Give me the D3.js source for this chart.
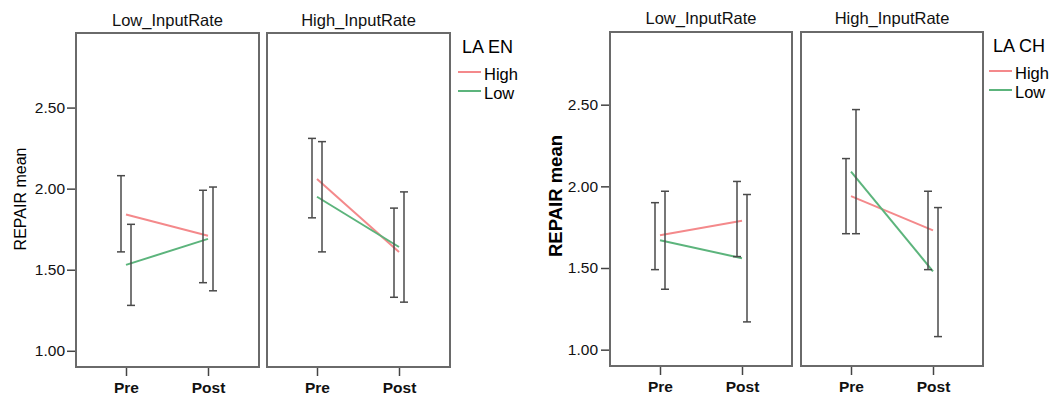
<!DOCTYPE html>
<html>
<head>
<meta charset="utf-8">
<script src="https://cdn.jsdelivr.net/npm/d3@7"></script>
<style>
  body { margin: 0; background: #fff; }
  svg { display: block; font-family: "Liberation Sans", Arial, sans-serif; }
</style>
</head>
<body>
<svg id="chart"></svg>
<script>
const timePoints = ["Pre", "Post"];
const inputRates = ["Low_InputRate", "High_InputRate"];
const groups = ["High", "Low"];
const yTicks = [1.0, 1.5, 2.0, 2.5];

// each array: Low_InputRate Pre, Low_InputRate Post, High_InputRate Pre, High_InputRate Post
const enHighMean = [1.84, 1.71, 2.06, 1.61];
const enHighLower = [1.61, 1.42, 1.82, 1.33];
const enHighUpper = [2.08, 1.99, 2.31, 1.88];
const enLowMean = [1.53, 1.69, 1.95, 1.64];
const enLowLower = [1.28, 1.37, 1.61, 1.30];
const enLowUpper = [1.78, 2.01, 2.29, 1.98];

const chHighMean = [1.70, 1.79, 1.94, 1.73];
const chHighLower = [1.49, 1.57, 1.71, 1.49];
const chHighUpper = [1.90, 2.03, 2.17, 1.97];
const chLowMean = [1.67, 1.56, 2.09, 1.48];
const chLowLower = [1.37, 1.17, 1.71, 1.08];
const chLowUpper = [1.97, 1.95, 2.47, 1.87];

const colors = { High: "#f4898b", Low: "#5cb47c" };

const svgWidth = 1051;
const svgHeight = 396;

let svg = d3.select("#chart")
    .attr("width", svgWidth)
    .attr("height", svgHeight);

const drawChart = (cfg, series) => {
    const g = svg.append("g");
    const panelW = cfg.panelW;

    let yScale = d3.scaleLinear().domain(cfg.yDomain).range([cfg.bottom, cfg.top]);
    let xScale = d3.scalePoint().domain(timePoints).range([50, 132]);
    let panelScale = d3.scaleOrdinal().domain(inputRates).range(cfg.panelX);

    //y axis
    let yAxis = d3.axisLeft(yScale).tickValues(yTicks).tickFormat(d3.format(".2f"))
        .tickSize(9).tickPadding(cfg.tickPad);
    let ya = g.append("g").attr("transform", `translate(${cfg.panelX[0]}, 0)`).call(yAxis);
    ya.select(".domain").remove();
    ya.selectAll("line").attr("stroke", "#444").attr("stroke-width", 1.5);
    ya.selectAll("text").attr("font-size", 15.5).attr("fill", "#111")
        .attr("font-family", "Liberation Sans, Arial, sans-serif");

    //y label
    g.append("text")
        .attr("transform", `translate(${cfg.labelX}, ${cfg.labelY}) rotate(-90)`)
        .attr("text-anchor", "middle")
        .attr("font-size", cfg.labelSize)
        .attr("font-weight", cfg.labelWeight)
        .attr("fill", "#000")
        .text("REPAIR mean");

    inputRates.forEach((rate, p) => {
        const px = panelScale(rate);
        const pg = g.append("g").attr("transform", `translate(${px}, 0)`);

        //panel title
        pg.append("text")
            .attr("x", panelW / 2)
            .attr("y", cfg.titleY)
            .attr("text-anchor", "middle")
            .attr("font-size", 16.5)
            .attr("fill", "#111")
            .text(rate);

        //x axis
        let xAxis = d3.axisBottom(xScale).tickSize(9).tickPadding(6);
        let xa = pg.append("g").attr("transform", `translate(0, ${cfg.bottom})`).call(xAxis);
        xa.select(".domain").remove();
        xa.selectAll("line").attr("stroke", "#444").attr("stroke-width", 1.5);
        xa.selectAll("text").attr("font-size", 15.5).attr("font-weight", "bold").attr("fill", "#111")
            .attr("font-family", "Liberation Sans, Arial, sans-serif");

        //lines
        groups.forEach((grp) => {
            const s = series[grp];
            const pts = timePoints.map((t, i) => [xScale(t), yScale(s.mean[p * 2 + i])]);
            pg.append("path")
                .attr("d", d3.line()(pts))
                .attr("fill", "none")
                .attr("stroke", colors[grp])
                .attr("stroke-width", 2);
        });

        //error bars
        groups.forEach((grp, gi) => {
            const s = series[grp];
            const dodge = gi === 0 ? -5 : 5;
            timePoints.forEach((t, i) => {
                const x = xScale(t) + dodge;
                const lo = yScale(s.lower[p * 2 + i]);
                const hi = yScale(s.upper[p * 2 + i]);
                const eb = pg.append("g").attr("stroke", "#4a4a4a").attr("stroke-width", 1.5);
                eb.append("line").attr("x1", x).attr("x2", x).attr("y1", lo).attr("y2", hi);
                eb.append("line").attr("x1", x - 4).attr("x2", x + 4).attr("y1", lo).attr("y2", lo);
                eb.append("line").attr("x1", x - 4).attr("x2", x + 4).attr("y1", hi).attr("y2", hi);
            });
        });

        //frame
        pg.append("rect")
            .attr("x", 0)
            .attr("y", cfg.top)
            .attr("width", panelW)
            .attr("height", cfg.bottom - cfg.top)
            .attr("fill", "none")
            .attr("stroke", "#6a6a6a")
            .attr("stroke-width", 2);
    });

    //legend
    const lg = g.append("g").attr("transform", `translate(${cfg.legendX}, 0)`);
    lg.append("text")
        .attr("x", 4)
        .attr("y", cfg.legendY)
        .attr("font-size", 18)
        .attr("fill", "#000")
        .text(cfg.legendTitle);
    groups.forEach((grp, i) => {
        const ly = cfg.legendY + 19 + i * 19;
        lg.append("line")
            .attr("x1", 0).attr("x2", 23)
            .attr("y1", ly).attr("y2", ly)
            .attr("stroke", colors[grp])
            .attr("stroke-width", 2);
        lg.append("text")
            .attr("x", 26)
            .attr("y", ly + 8)
            .attr("font-size", 16.5)
            .attr("fill", "#000")
            .text(grp);
    });
};

drawChart({
    panelX: [76, 267], panelW: 183, top: 33, bottom: 367,
    yDomain: [0.9, 2.96], tickPad: 2, titleY: 26,
    labelX: 26, labelY: 199, labelSize: 16, labelWeight: "normal",
    legendX: 458, legendY: 53, legendTitle: "LA EN"
}, {
    High: { mean: enHighMean, lower: enHighLower, upper: enHighUpper },
    Low: { mean: enLowMean, lower: enLowLower, upper: enLowUpper }
});

drawChart({
    panelX: [610, 801], panelW: 182, top: 32, bottom: 366,
    yDomain: [0.9, 2.945], tickPad: 3, titleY: 24,
    labelX: 562, labelY: 196, labelSize: 18.5, labelWeight: "bold",
    legendX: 989, legendY: 52, legendTitle: "LA CH"
}, {
    High: { mean: chHighMean, lower: chHighLower, upper: chHighUpper },
    Low: { mean: chLowMean, lower: chLowLower, upper: chLowUpper }
});
</script>
</body>
</html>
